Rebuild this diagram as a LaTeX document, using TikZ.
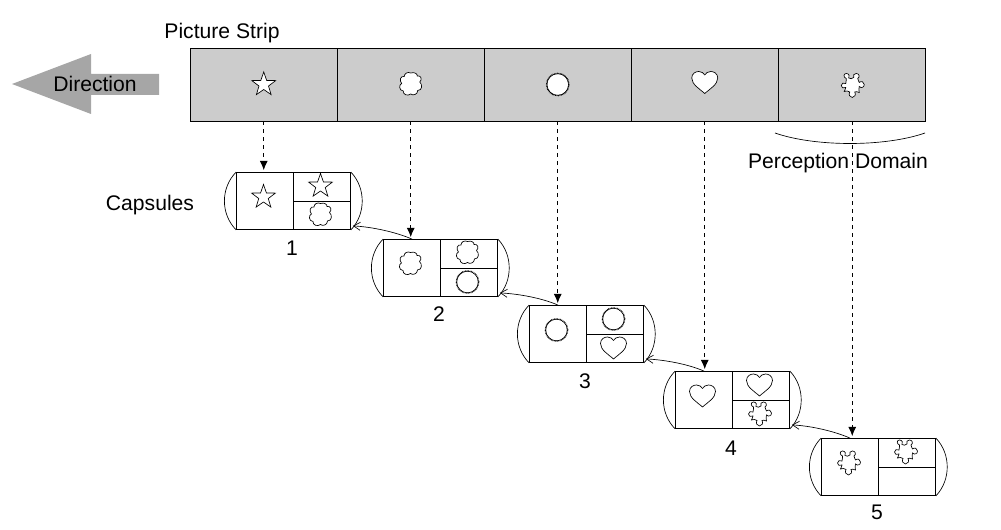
\documentclass[tikz,border=0pt]{standalone}
\usepackage{fontspec}
\setmainfont{Liberation Sans}
\usetikzlibrary{arrows.meta}
\definecolor{stripgray}{RGB}{204,204,204}
\definecolor{arrowgray}{RGB}{166,166,166}
\tikzset{
  stripcell/.style={draw,fill=stripgray,line width=0.6pt,minimum width=110.25pt,minimum height=54.75pt,inner sep=0pt},
  halfcell/.style={draw,line width=0.6pt,minimum width=42.75pt,minimum height=42.75pt,inner sep=0pt},
  quartercell/.style={draw,line width=0.6pt,minimum width=42.75pt,minimum height=21.375pt,inner sep=0pt},
  label/.style={font=\fontsize{15.85}{18}\selectfont,inner sep=0pt},
  icon/.style={draw,fill=white,line width=0.5pt,yscale=-1},
  feed/.style={dashed,line width=0.5pt,shorten >=1.5pt,-{Latex[length=7pt,width=6pt]}},
  link/.style={line width=0.5pt,-{Straight Barb[length=5pt,width=6pt]}},
  side/.style={line width=0.5pt},
  pics/star/.style={code={\draw[icon] (0,-12.5) -- (2.94,-4.05) -- (11.9,-3.9) -- (4.76,1.55) -- (7.35,10.1) -- (0,5) -- (-7.35,10.1) -- (-4.76,1.55) -- (-11.9,-3.9) -- (-2.94,-4.05) -- cycle;}},
  pics/cloud/.style={code={\draw[icon] (0,-11.5) .. controls (4,-13) and (7,-10) .. (6.5,-8.5) .. controls (10,-9.5) and (12,-5) .. (9,-2.5) .. controls (12,0) and (11.5,6) .. (7,6) .. controls (7,10) and (2,11.5) .. (0,9.5) .. controls (-3,12) and (-8,10) .. (-7.5,6.5) .. controls (-12,6) and (-12,0) .. (-9,-1) .. controls (-12,-4) and (-10,-9) .. (-6.5,-8) .. controls (-6.5,-11) and (-3,-13) .. (0,-11.5) -- cycle;}},
  pics/ring/.style={code={\draw[icon,line width=0.4pt] (0,0) circle [radius=10.8];\draw[line width=1pt,dash pattern=on 0.5pt off 0.6pt] (0,0) circle [radius=11.2];}},
  pics/heart/.style={code={\draw[icon] (0,11) .. controls (-5,6.5) and (-13,2) .. (-13,-4.5) .. controls (-13,-9) and (-9,-11) .. (-6,-11) .. controls (-3.5,-11) and (-1,-9.5) .. (0,-7.5) .. controls (1,-9.5) and (3.5,-11) .. (6,-11) .. controls (9,-11) and (13,-9) .. (13,-4.5) .. controls (13,2) and (5,6.5) .. (0,11) -- cycle;}},
  pics/puzzle/.style={code={\draw[icon] (-6,-7) .. controls (-9,-8) and (-9,-12) .. (-6,-12) .. controls (-3,-12) and (-2.5,-9) .. (-3.5,-7.5) .. controls (-2,-6.5) and (0,-6.5) .. (1.5,-8) .. controls (0,-10) and (2,-12) .. (4,-12) .. controls (7,-12) and (8,-8.5) .. (5.5,-7) .. controls (6,-5) and (6.5,-4) .. (7,-3) .. controls (9,-5) and (12,-3.5) .. (12,-1) .. controls (12,2) and (9,3) .. (7,1) .. controls (6.5,3) and (6.5,5) .. (7,7) .. controls (5,6) and (3.5,6) .. (2.5,6.5) .. controls (4,9) and (2.5,12) .. (0,12) .. controls (-2.5,12) and (-4,9) .. (-2.5,6.5) .. controls (-4,5.5) and (-6,5) .. (-8,6) .. controls (-7,4.5) and (-7,3) .. (-6.5,2) .. controls (-9,3.5) and (-11,2) .. (-11,0) .. controls (-11,-2) and (-8.5,-3.5) .. (-6.5,-2) .. controls (-6,-4) and (-6,-5.5) .. (-6,-7) -- cycle;}},
  pics/blank/.style={code={}}
}
\begin{document}
\begin{tikzpicture}[x=0.75pt,y=0.75pt,yscale=-1,xscale=1]
\useasboundingbox (0,0) rectangle (1001,530);

%Direction arrow
\fill [arrowgray] (12,84) -- (91,54) -- (91,74) -- (159,74) -- (159,95) -- (91,95) -- (91,114) -- cycle;
\node [label] (direction) at (95,84) {Direction};

%Picture strip
\node [label] (striptitle) at (222,33) {Picture Strip};
\foreach \n/\x/\shape/\dy in {1/263.75/star/0,2/410.75/cloud/0,3/557.75/ring/0,4/704.75/heart/-2,5/852.25/puzzle/1} {
  \node [stripcell] (s\n) at (\x,84.5) {};
  \pic at (\x,84.5+\dy) {\shape};
}

%Perception domain
\coordinate (domainleft) at (775,133);
\coordinate (domainright) at (925,133);
\draw [side] (domainleft) .. controls (815,147) and (885,147) .. (domainright);
\node [label] (domain) at (838,163) {Perception Domain};

%Capsules
\node [label] (capsules) at (150,205) {Capsules};
\foreach \n/\x/\y/\lb/\shape/\upper/\lower in {
  1/293.5/201/248/star/star/cloud,
  2/440.5/268/314/cloud/cloud/ring,
  3/586.5/334/381/ring/ring/heart,
  4/732.5/400/448/heart/heart/puzzle,
  5/878.5/467/512/puzzle/puzzle/blank} {
  \node [halfcell] (c\n) at (\x-28.5,\y) {};
  \node [quartercell] (t\n) at (\x+28.5,\y-14.25) {};
  \node [quartercell] (b\n) at (\x+28.5,\y+14.25) {};
  \pic at (\x-30,\y-4) {\shape};
  \pic at (\x+27,\y-15) {\upper};
  \pic at (\x+27,\y+14) {\lower};
  \draw [side] (c\n.north west) .. controls (\x-73,\y-13) and (\x-73,\y+13) .. (c\n.south west);
  \draw [side] (t\n.north east) .. controls (\x+72.5,\y-13) and (\x+72.5,\y+13) .. (b\n.south east);
  \node [label] (n\n) at (\x-1.5,\lb) {\n};
  \draw [feed] (s\n.south) -- (s\n.south |- c\n.north);
}

%Links back to previous capsule
\foreach \m/\n in {1/2,2/3,3/4,4/5}
  \draw [link] (c\n.north) .. controls ([shift={(-16,-7)}]c\n.north) and ([shift={(21,-3)}]b\m.south east) .. ([shift={(2,-4)}]b\m.south east);
\end{tikzpicture}
\end{document}
